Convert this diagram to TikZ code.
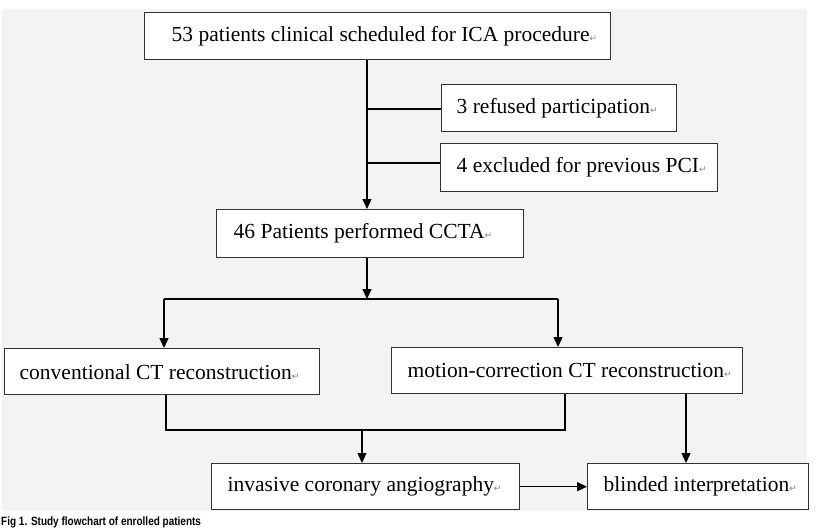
\documentclass[tikz,border=0pt]{standalone}
\usepackage{fontspec}
\setmainfont{Liberation Serif}
\setsansfont{Liberation Sans}
\newfontfamily\dejavu{DejaVu Sans}
\usetikzlibrary{arrows.meta}
\definecolor{bggray}{HTML}{F3F3F3}
\definecolor{boxline}{HTML}{333333}
\newcommand{\rt}{{\fontsize{9}{9}\selectfont\dejavu\color{gray}↵}}
\begin{document}
\begin{tikzpicture}[x=1pt,y=-1pt,
  box/.style={draw=boxline, line width=1.4pt, fill=white, inner xsep=0pt, inner ysep=0pt,
    anchor=north west, font=\fontsize{21.5}{24}\selectfont},
  conn/.style={line width=1.3pt, draw=black},
  arr/.style={conn, -{Triangle[length=10pt,width=9pt]}}]
\useasboundingbox (0,0) rectangle (816,528);
\clip (0,0) rectangle (816,528);
\fill[white] (0,0) rectangle (816,528);
\fill[bggray] (2,9) rectangle (807,511);

% boxes
\node[box, minimum height=47pt] (b1) at (144,12) {\makebox[466pt][l]{\hspace*{27pt}53 patients clinical scheduled for ICA procedure\rt}};
\node[box, minimum height=47pt] (r1) at (441,84) {\makebox[235pt][l]{\hspace*{15pt}3 refused participation\rt}};
\node[box, minimum height=48pt] (r2) at (440,143) {\makebox[277pt][l]{\hspace*{16pt}4 excluded for previous PCI\rt}};
\node[box, minimum height=48pt] (b2) at (216,209) {\makebox[307pt][l]{\hspace*{17pt}46 Patients performed CCTA\rt}};
\node[box, minimum height=46pt] (b3) at (4,348) {\makebox[315pt][l]{\hspace*{15pt}conventional CT reconstruction\rt}};
\node[box, minimum height=46pt] (b4) at (391,347) {\makebox[351pt][l]{\hspace*{16pt}motion-correction CT reconstruction\rt}};
\node[box, minimum height=46pt] (b5) at (211,463) {\makebox[308pt][l]{\hspace*{16pt}invasive coronary angiography\rt}};
\node[box, minimum height=46pt] (b6) at (587,463) {\makebox[221pt][l]{\hspace*{16pt}blinded interpretation\rt}};

% junction coordinates
\coordinate (j1) at (367,109);
\coordinate (j2) at (367,163);
\coordinate (s1) at (367,299);
\coordinate (sl) at (164,299);
\coordinate (sr) at (558,299);
\coordinate (ml) at (166,430);
\coordinate (mr) at (565,430);
\coordinate (mm) at (362,430);

% connectors
\draw[arr] (b1.south -| j1) -- (b2.north -| j1);
\draw[conn] (j1) -- (r1.west |- j1);
\draw[conn] (j2) -- (r2.west |- j2);
\draw[arr] (b2.south -| s1) -- (s1);
\draw[conn] (sl) -- (sr);
\draw[arr] (sl) -- (b3.north -| sl);
\draw[arr] (sr) -- (b4.north -| sr);
\draw[conn] (b3.south -| ml) -- (ml) -- (mr) -- (b4.south -| mr);
\draw[arr] (mm) -- (b5.north -| mm);
\draw[arr] (b4.south -| 686,0) -- (b6.north -| 686,0);
\draw[arr] (b5.east) -- (b6.west);

% caption
\node[anchor=base west, inner sep=0pt, font=\fontsize{10}{12}\sffamily\bfseries] (cap) at (1,525.5) {\scalebox{1}[1.2]{Fig 1. Study flowchart of enrolled patients}};
\end{tikzpicture}
\end{document}
